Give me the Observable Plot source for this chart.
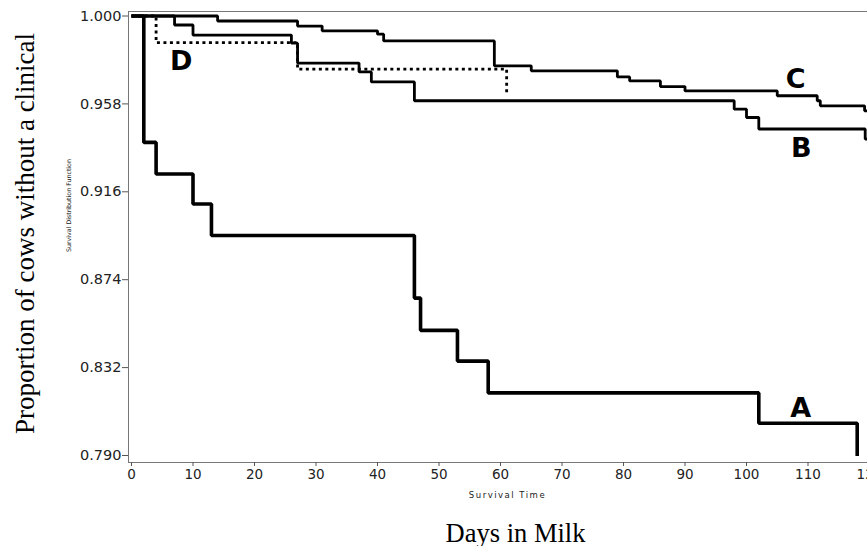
<!DOCTYPE html>
<html>
<head>
<meta charset="utf-8">
<script src="https://cdn.jsdelivr.net/npm/d3@7"></script>
<script src="https://cdn.jsdelivr.net/npm/@observablehq/plot@0.6"></script>
<style>
  html, body { margin: 0; padding: 0; background: #fff; overflow: hidden; }
  #chart svg { display: block; }
</style>
</head>
<body>
<div id="chart"></div>
<script>
// Tick values
const xTicks = [0, 10, 20, 30, 40, 50, 60, 70, 80, 90, 100, 110, 120];
const yTicks = [0.790, 0.832, 0.874, 0.916, 0.958, 1.000];

// Survival curves (step-after): day of change and survival from that day
const daysA = [0, 2, 4, 10, 13, 46, 47, 53, 58, 102, 118];
const survA = [1.000, 0.9396, 0.9245, 0.9102, 0.8951, 0.8652, 0.8498, 0.8351, 0.8199, 0.8054, 0.7898];

const daysB = [0, 7, 10, 26, 27, 37, 39, 46, 98, 100, 102, 119.3, 120];
const survB = [1.000, 0.9957, 0.9909, 0.9870, 0.9775, 0.9733, 0.9685, 0.9595, 0.9555, 0.9515, 0.9460, 0.9412, 0.9412];

const daysC = [0, 14, 27, 31, 40, 41, 59, 65, 79, 81, 86, 90, 105, 111.5, 112, 119.2, 120];
const survC = [1.000, 0.9976, 0.9952, 0.9929, 0.9913, 0.9881, 0.9762, 0.9738, 0.9709, 0.9690, 0.9663, 0.9642, 0.9619, 0.9595, 0.9571, 0.9547, 0.9547];

const daysD = [0, 4, 27, 61];
const survD = [1.000, 0.9873, 0.9746, 0.9627];

// Curve annotation letters (anchored in data units)
const labelText = ["A", "B", "C", "D"];
const labelDay = [108.8, 108.9, 108.0, 8.1];
const labelSurv = [0.8085, 0.9324, 0.9655, 0.9743];

// Axis / figure texts
const yAxisTitle = "Survival Distribution Function";
const xAxisTitle = "Survival Time";
const outerYTitle = "Proportion of cows without a clinical";
const outerXTitle = "Days in Milk";

const toRows = (name, days, surv) => days.map((d, i) => ({series: name, day: d, surv: surv[i]}));
const solidRows = toRows("A", daysA, survA);
const thinRows = [
  ...toRows("B", daysB, survB),
  ...toRows("C", daysC, survC)
];
const dottedRows = toRows("D", daysD, survD);
const letters = labelText.map((t, i) => ({t, day: labelDay[i], surv: labelSurv[i]}));

const chart = Plot.plot({
  width: 867,
  height: 546,
  marginLeft: 128,
  marginTop: 11,
  marginBottom: 84,
  marginRight: -5,
  style: {background: "#fff", fontFamily: "DejaVu Sans, sans-serif", color: "#111"},
  x: {domain: [0, 120], range: [131, 869]},
  y: {domain: [0.790, 1.000], range: [455, 15.5]},
  marks: [
    Plot.frame({stroke: "#777", strokeWidth: 1}),
    Plot.axisX({
      ticks: xTicks, tickSize: 4, tickPadding: 3, label: null,
      tickFormat: d3.format("d"), fontSize: 13.5, fontFamily: "DejaVu Sans",
      stroke: "#555", fill: "#222"
    }),
    Plot.axisY({
      ticks: yTicks, tickSize: 6, tickPadding: 1, label: null,
      tickFormat: d3.format(".3f"), fontSize: 14.5, fontFamily: "DejaVu Sans",
      stroke: "#555", fill: "#222"
    }),
    Plot.line(solidRows, {
      x: "day", y: "surv", z: "series", curve: "step-after",
      stroke: "#000", strokeWidth: 3.6, strokeLinejoin: "miter", strokeLinecap: "butt"
    }),
    Plot.line(thinRows, {
      x: "day", y: "surv", z: "series", curve: "step-after",
      stroke: "#000", strokeWidth: 2.8, strokeLinejoin: "miter", strokeLinecap: "butt"
    }),
    Plot.line(dottedRows, {
      x: "day", y: "surv", z: "series", curve: "step-after",
      stroke: "#000", strokeWidth: 2.8, strokeDasharray: "3,3.5", strokeLinecap: "butt"
    }),
    Plot.text(letters, {
      x: "day", y: "surv", text: "t", lineAnchor: "bottom", textAnchor: "middle",
      fontFamily: "DejaVu Sans", fontWeight: "bold", fontSize: 27, fill: "#000"
    }),
    Plot.text([yAxisTitle], {
      frameAnchor: "left", textAnchor: "middle", rotate: -90, dx: -59.5, dy: -31.5, lineAnchor: "middle",
      fontFamily: "DejaVu Sans", fontSize: 6.3, fill: "#222"
    }),
    Plot.text([xAxisTitle], {
      frameAnchor: "bottom", textAnchor: "middle", dx: 7, dy: 35, lineAnchor: "bottom",
      fontFamily: "DejaVu Sans", fontSize: 8.5, fill: "#222"
    }),
    Plot.text([outerYTitle], {
      frameAnchor: "left", textAnchor: "middle", rotate: -90, dx: -103, dy: -3.5, lineAnchor: "middle",
      fontFamily: "Liberation Serif", fontSize: 27, fill: "#000"
    }),
    Plot.text([outerXTitle], {
      frameAnchor: "bottom", textAnchor: "middle", dx: 15, dy: 79, lineAnchor: "bottom",
      fontFamily: "Liberation Serif", fontSize: 26.5, fill: "#000"
    })
  ]
});
// widen the small SAS-style axis title like the original
d3.select(chart).selectAll("text")
  .filter(function () { return this.textContent === xAxisTitle; })
  .attr("letter-spacing", "1.5px");
document.getElementById("chart").appendChild(chart);
</script>
</body>
</html>
